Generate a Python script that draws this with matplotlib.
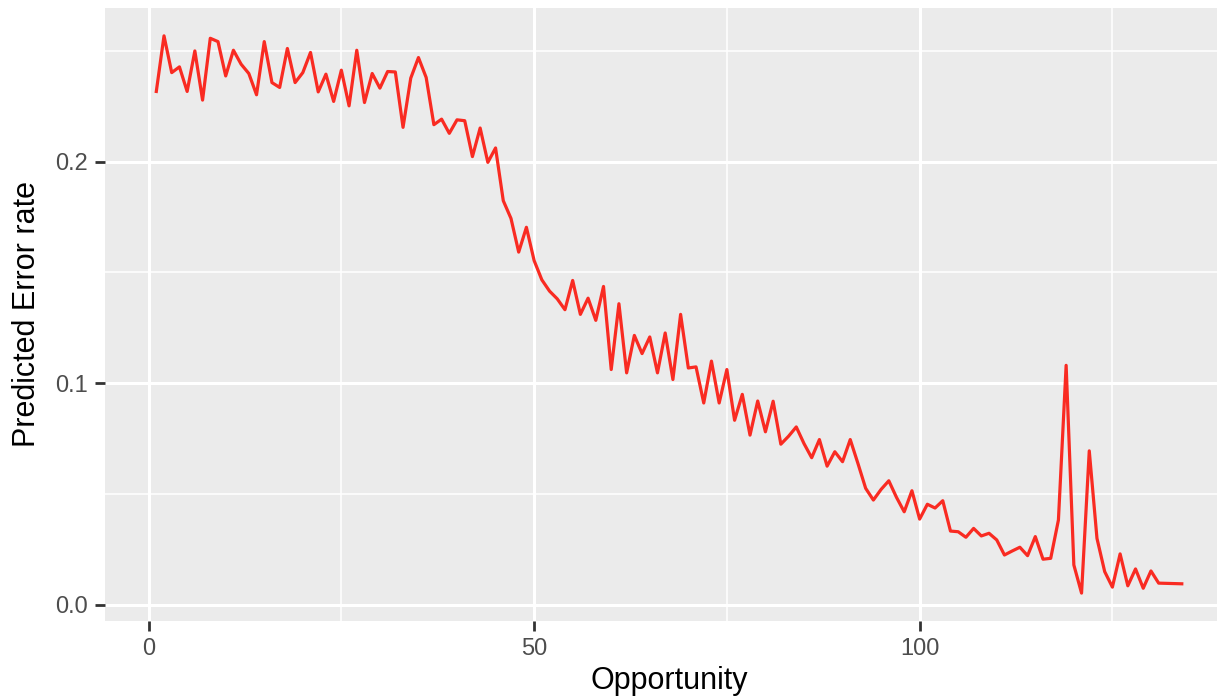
import numpy as np
import matplotlib
matplotlib.use("Agg")
import matplotlib.pyplot as plt

# opportunity index 1..134, predicted error rate
opportunity = np.arange(1, 135)
error_rate = [
    0.2317, 0.2568, 0.2402, 0.2428, 0.2317, 0.2500, 0.2278, 0.2557, 0.2542, 0.2387,
    0.2503, 0.2440, 0.2398, 0.2302, 0.2542, 0.2357, 0.2335, 0.2511, 0.2357, 0.2402,
    0.2493, 0.2315, 0.2395, 0.2272, 0.2413, 0.2252, 0.2503, 0.2267, 0.2398, 0.2332,
    0.2407, 0.2405, 0.2155, 0.2377, 0.2470, 0.2380, 0.2167, 0.2192, 0.2128, 0.2189,
    0.2185, 0.2023, 0.2152, 0.1997, 0.2062, 0.1824, 0.1744, 0.1592, 0.1704, 0.1554,
    0.1467, 0.1416, 0.1381, 0.1332, 0.1464, 0.1311, 0.1384, 0.1284, 0.1437, 0.1062,
    0.1359, 0.1047, 0.1216, 0.1134, 0.1209, 0.1047, 0.1227, 0.1017, 0.1311, 0.1069,
    0.1074, 0.0911, 0.1100, 0.0911, 0.1062, 0.0833, 0.0950, 0.0766, 0.0920, 0.0781,
    0.0919, 0.0725, 0.0761, 0.0803, 0.0728, 0.0664, 0.0746, 0.0626, 0.0691, 0.0646,
    0.0746, 0.0638, 0.0526, 0.0473, 0.0521, 0.0560, 0.0485, 0.0420, 0.0515, 0.0387,
    0.0454, 0.0437, 0.0470, 0.0333, 0.0330, 0.0305, 0.0345, 0.0311, 0.0323, 0.0293,
    0.0225, 0.0243, 0.0260, 0.0222, 0.0308, 0.0206, 0.0210, 0.0383, 0.1081, 0.0180,
    0.0053, 0.0695, 0.0300, 0.0150, 0.0080, 0.0230, 0.0086, 0.0162, 0.0075, 0.0153,
    0.0098, 0.0097, 0.0096, 0.0095,
]

x_ticks = [0, 50, 100]
x_minor = [25, 75, 125]
y_ticks = [0.0, 0.1, 0.2]
y_minor = [0.05, 0.15, 0.25]

plt.rcParams['font.family'] = ['Liberation Sans', 'DejaVu Sans']

fig = plt.figure(figsize=(12.17, 7), dpi=100)
# panel runs past the right edge of the picture, as in the original
ax = fig.add_axes([0.0863, 0.1129, 0.9269, 0.8757])
ax.set_facecolor('#EBEBEB')

ax.plot(opportunity, error_rate, color='#F92B22', linewidth=2.3, zorder=3)

# ggplot-style expansion (5% each side)
xr = opportunity.max() - opportunity.min()
yr = max(error_rate) - min(error_rate)
ax.set_xlim(opportunity.min() - 0.05 * xr, opportunity.max() + 0.05 * xr)
ax.set_ylim(min(error_rate) - 0.05 * yr, max(error_rate) + 0.05 * yr)

ax.set_xticks(x_ticks)
ax.set_xticks(x_minor, minor=True)
ax.set_yticks(y_ticks)
ax.set_yticks(y_minor, minor=True)
ax.set_xticklabels([str(v) for v in x_ticks])
ax.set_yticklabels(['%.1f' % v for v in y_ticks])

ax.grid(which='major', color='white', linewidth=2.2, zorder=1)
ax.grid(which='minor', color='white', linewidth=1.1, zorder=1)
ax.set_axisbelow(True)
for s in ax.spines.values():
    s.set_visible(False)

ax.tick_params(which='major', length=7, width=2, color='#333333',
               labelsize=17, labelcolor='#4D4D4D', pad=5)
ax.tick_params(which='minor', length=0)

ax.set_xlabel('Opportunity', fontsize=22, color='black')
ax.set_ylabel('Predicted Error rate', fontsize=22, color='black')
ax.xaxis.set_label_coords(0.5, -0.074)
ax.yaxis.set_label_coords(-0.056, 0.5)

fig.savefig('out.png', dpi=100)
